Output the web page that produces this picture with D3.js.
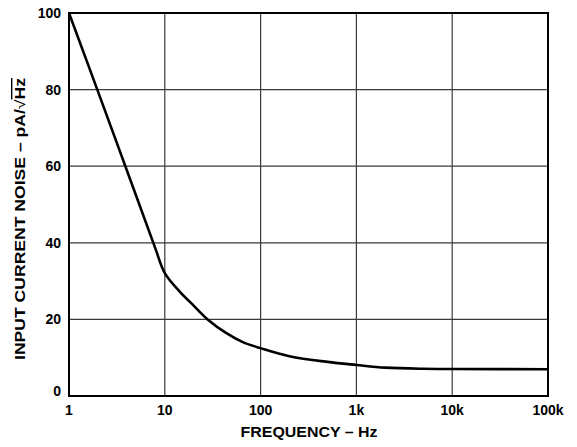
<!DOCTYPE html>
<html>
<head>
<meta charset="utf-8">
<script src="https://cdn.jsdelivr.net/npm/d3@7"></script>
<style>
  body { margin: 0; background: #fff; }
  text { font-family: "Liberation Sans", Arial, sans-serif; font-weight: bold; fill: #000; }
</style>
</head>
<body>
<svg width="577" height="447"></svg>
<script>
// values
var freq  = [1, 2, 5, 8, 10, 14.4, 20, 28, 44, 66, 100, 200, 500, 1000, 2000, 5000, 10000, 100000];
var noise = [100, 79.6, 52.4, 38.4, 32.1, 27.2, 23.6, 20.0, 16.4, 14.0, 12.5, 10.4, 8.9, 8.1, 7.4, 7.1, 7.05, 7.0];

var xTicks = [1, 10, 100, 1000, 10000, 100000];
var xLabels = ["1", "10", "100", "1k", "10k", "100k"];
var yTicks = [0, 20, 40, 60, 80, 100];

var margin = { left: 69, top: 13, right: 29, bottom: 51 };
var W = 577, H = 447;

var svg = d3.select('svg');

var x = d3.scaleLog().domain([1, 100000]).range([margin.left, W - margin.right]);
var y = d3.scaleLinear().domain([0, 100]).range([H - margin.bottom, margin.top]);

// grid
var grid = svg.append('g').attr('stroke', '#3a3a3a').attr('stroke-width', 1.2);
grid.selectAll('.vg').data(xTicks).enter().append('line')
	.attr('x1', function(d){ return x(d) }).attr('x2', function(d){ return x(d) })
	.attr('y1', y(0)).attr('y2', y(100));
grid.selectAll('.hg').data(yTicks).enter().append('line')
	.attr('x1', x(1)).attr('x2', x(100000))
	.attr('y1', function(d){ return y(d) }).attr('y2', function(d){ return y(d) });

// frame
svg.append('rect')
	.attr('x', x(1)).attr('y', y(100))
	.attr('width', x(100000) - x(1)).attr('height', y(0) - y(100))
	.attr('fill', 'none').attr('stroke', '#000').attr('stroke-width', 2);

// curve
var line = d3.line()
	.x(function(d, i){ return x(freq[i]) })
	.y(function(d){ return y(d) })
	.curve(d3.curveCatmullRom.alpha(0.5));
svg.append('path').datum(noise)
	.attr('d', line)
	.attr('fill', 'none').attr('stroke', '#000').attr('stroke-width', 2.6);

// tick labels
svg.selectAll('.yl').data(yTicks).enter().append('text')
	.attr('x', 61).attr('y', function(d){ return y(d) + (d === 0 ? 0 : 5) })
	.attr('text-anchor', 'end').style('font-size', '14px')
	.text(function(d){ return d });
svg.selectAll('.xl').data(xTicks).enter().append('text')
	.attr('x', function(d){ return x(d) }).attr('y', 415)
	.attr('text-anchor', 'middle').style('font-size', '14px')
	.text(function(d, i){ return xLabels[i] });

// axis titles
svg.append('text')
	.attr('x', (x(1) + x(100000)) / 2 - 68).attr('y', 437)
	.attr('textLength', 137).attr('lengthAdjust', 'spacingAndGlyphs')
	.style('font-size', '14px')
	.text('FREQUENCY – Hz');

var yt = svg.append('text')
	.attr('transform', 'translate(25,360) rotate(-90)')
	.attr('textLength', 282).attr('lengthAdjust', 'spacingAndGlyphs')
	.style('font-size', '14px');
yt.append('tspan').text('INPUT CURRENT NOISE – pA/');
yt.append('tspan').style('font-weight', 'normal').text('√');
yt.append('tspan').attr('text-decoration', 'overline').text('Hz');
</script>
</body>
</html>
